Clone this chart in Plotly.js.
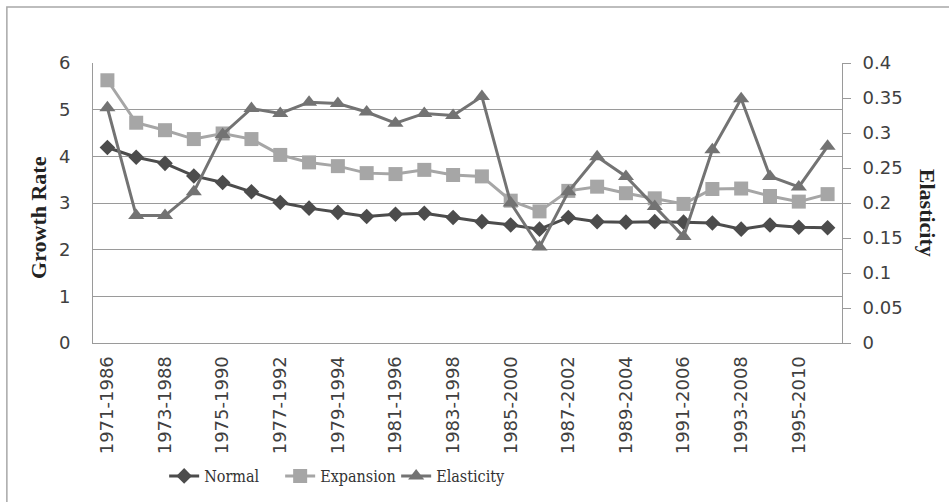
<!DOCTYPE html>
<html>
<head>
<meta charset="utf-8">
<script src="https://cdn.plot.ly/plotly-3.0.1.min.js"></script>
<style>html,body{margin:0;padding:0;background:#fff;}#chart{width:949px;height:502px;}</style>
</head>
<body>
<div id="chart"></div>
<script>
const periods = ["1971-1986","1972-1987","1973-1988","1974-1989","1975-1990","1976-1991","1977-1992","1978-1993","1979-1994","1980-1995","1981-1996","1982-1997","1983-1998","1984-1999","1985-2000","1986-2001","1987-2002","1988-2003","1989-2004","1990-2005","1991-2006","1992-2007","1993-2008","1994-2009","1995-2010","1996-2011"];
const normal = [4.19,3.98,3.85,3.58,3.44,3.24,3.01,2.89,2.80,2.71,2.76,2.78,2.69,2.60,2.53,2.44,2.69,2.60,2.59,2.60,2.59,2.57,2.44,2.53,2.48,2.47];
const expansion = [5.63,4.72,4.56,4.37,4.49,4.37,4.03,3.87,3.79,3.64,3.62,3.71,3.60,3.57,3.05,2.82,3.26,3.35,3.21,3.10,2.98,3.30,3.31,3.15,3.03,3.19];
const elasticity = [0.336,0.182,0.182,0.216,0.298,0.335,0.328,0.344,0.342,0.330,0.314,0.328,0.325,0.352,0.200,0.137,0.216,0.266,0.238,0.195,0.152,0.276,0.349,0.238,0.223,0.281];
const shownTicks = periods.filter((p, i) => i % 2 === 0);

const numFont = {family: "DejaVu Sans", size: 18, color: "#404040"};
const traces = [
  {x: periods, y: normal, name: "Normal", type: "scatter", mode: "lines+markers",
   line: {color: "#4c4c4c", width: 3}, marker: {symbol: "diamond", size: 12, color: "#4c4c4c"}},
  {x: periods, y: expansion, name: "Expansion", type: "scatter", mode: "lines+markers",
   line: {color: "#a6a6a6", width: 3}, marker: {symbol: "square", size: 14, color: "#a6a6a6"}},
  {x: periods, y: elasticity, name: "Elasticity", type: "scatter", mode: "lines+markers", yaxis: "y2",
   line: {color: "#737373", width: 3}, marker: {symbol: "triangle-up", size: 14, color: "#737373"}}
];
const layout = {
  width: 949, height: 502,
  margin: {l: 93, r: 107, t: 63, b: 159, autoexpand: false},
  paper_bgcolor: "#fff", plot_bgcolor: "#fff",
  showlegend: true,
  legend: {orientation: "h", x: 0.095, xanchor: "left", y: -0.475, yanchor: "middle",
    entrywidth: 71, entrywidthmode: "pixels",
    font: {family: "DejaVu Serif Condensed", size: 16, color: "#333"}, traceorder: "normal"},
  xaxis: {type: "category", range: [-0.5, 25.5], tickvals: shownTicks, ticktext: shownTicks,
    tickangle: -90, tickfont: numFont, ticklabelstandoff: 5, showgrid: false, showline: true,
    linecolor: "#9a9a9a", linewidth: 1, ticks: "", zeroline: false},
  yaxis: {range: [0, 6], dtick: 1, tickfont: numFont, ticklabelstandoff: 18,
    showgrid: true, gridcolor: "#9a9a9a", gridwidth: 1, showline: true, linecolor: "#9a9a9a",
    ticks: "", zeroline: false},
  yaxis2: {overlaying: "y", side: "right", range: [0, 0.4], dtick: 0.05,
    tickfont: numFont, ticklabelstandoff: 8, showgrid: false, showline: true,
    linecolor: "#9a9a9a", ticks: "outside", ticklen: 8, tickcolor: "#9a9a9a", zeroline: false},
  shapes: [{type: "rect", xref: "paper", yref: "paper", x0: -0.115, x1: 1.2, y0: -0.7, y1: 1.2,
    line: {color: "#a8a8a8", width: 1.5}, fillcolor: "rgba(0,0,0,0)"}],
  annotations: [
    {text: "<b>Growth Rate</b>", xref: "paper", yref: "paper", x: -0.0735, y: 0.45,
     xanchor: "center", yanchor: "middle",
     showarrow: false, textangle: -90, font: {family: "Liberation Serif", size: 22, color: "#222"}},
    {text: "<b>Elasticity</b>", xref: "paper", yref: "paper", x: 1.1135, y: 0.465,
     xanchor: "center", yanchor: "middle",
     showarrow: false, textangle: 90, font: {family: "Liberation Serif", size: 22, color: "#222"}}]
};
Plotly.newPlot("chart", traces, layout, {displayModeBar: false, staticPlot: true});
</script>
</body>
</html>
